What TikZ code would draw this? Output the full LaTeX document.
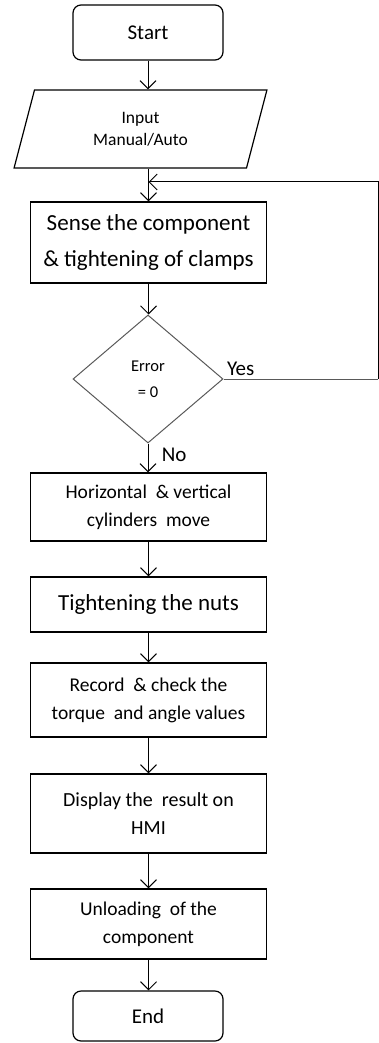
\documentclass[tikz,border=0pt]{standalone}
\usepackage{fontspec}
\setmainfont{Carlito}
\usepackage{tikz}
\usetikzlibrary{calc}
\usetikzlibrary{arrows,shapes}
\usetikzlibrary{shapes.geometric}
\usetikzlibrary{arrows.meta}
\tikzset{
	box/.style={draw,line width=1.2pt,minimum width=236pt,align=center,inner sep=0pt},
	term/.style={draw,line width=1.2pt,rounded corners=8pt,minimum width=150pt,inner sep=0pt},
	arr/.style={line width=1pt,-{Straight Barb[length=8pt,width=16pt,line width=1pt]}},
	fs/.style={font=\fontsize{#1}{28}\selectfont}
}

\begin{document}
\begin{tikzpicture}[x=1pt,y=-1pt]
	\useasboundingbox (0,0) rectangle (379,1043);
	\node [term,minimum height=55pt,fs=21] (start) at (148,32.5) {Start};
	\node [draw,line width=1.2pt,trapezium,trapezium left angle=75,trapezium right angle=105,trapezium stretches=true,minimum width=253pt,minimum height=78pt,inner sep=0pt,align=center,font=\fontsize{17.5}{22}\selectfont] (inp) at (140.5,129) {Input\\Manual/Auto};
	\node [box,minimum height=81pt,font=\fontsize{23}{36}\selectfont] (sense) at (148.5,242.5) {Sense the component\\\& tightening of clamps};
	\node [draw=gray!70!black,line width=1pt,diamond,minimum width=150pt,minimum height=128pt,inner sep=0pt,align=center,font=\fontsize{16.5}{26}\selectfont] (dec) at (148,379) {Error\\= 0};
	\node [box,minimum height=68pt,fs=19.5] (horiz) at (148.5,507) {Horizontal~ \& vertical\\cylinders~ move};
	\node [box,minimum height=55pt,fs=23] (tight) at (148.5,604.5) {Tightening the nuts};
	\node [box,minimum height=74pt,fs=19.5] (rec) at (148.5,700) {Record~ \& check the\\torque~ and angle values};
	\node [box,minimum height=79pt,fs=20] (disp) at (148.5,813.5) {Display the~ result on\\HMI};
	\node [box,minimum height=70pt,fs=19.5] (unl) at (148.5,924) {Unloading~ of the\\component};
	\node [term,minimum height=50pt,fs=21] (stop) at (148,1016) {End};
	\coordinate (fbr) at (378,182);
	\draw [arr] (start) -- (start |- inp.north);
	\draw [arr] (sense.north |- inp.south) -- (sense.north);
	\draw [arr] (sense) -- (sense |- dec.north);
	\draw [arr] (dec) -- (dec |- horiz.north) node [pos=0.4,right=10pt,fs=21] (no) {No};
	\draw [line width=1pt,gray!70!black] (dec.east) node [anchor=south west,inner sep=3pt,fs=21,black] (yes) {Yes} -- (dec.east -| fbr);
	\draw [arr] (dec.east -| fbr) -- (fbr) -- (fbr -| sense.north);
	\draw [arr] (horiz) -- (horiz |- tight.north);
	\draw [arr] (tight) -- (tight |- rec.north);
	\draw [arr] (rec) -- (rec |- disp.north);
	\draw [arr] (disp) -- (disp |- unl.north);
	\draw [arr] (unl) -- (unl |- stop.north);
\end{tikzpicture}
\end{document}
